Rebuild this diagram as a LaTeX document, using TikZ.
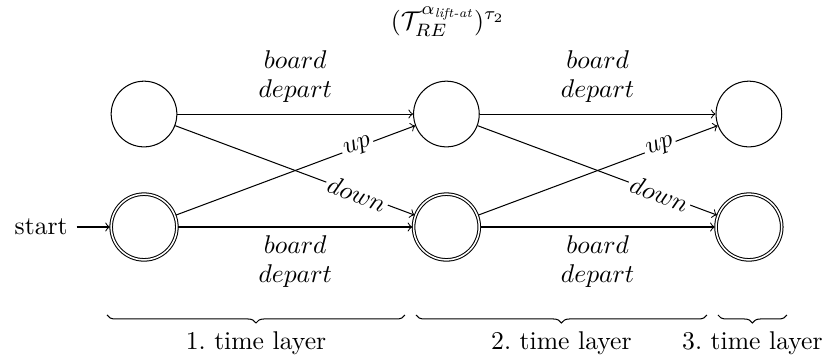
\documentclass[tikz,border=0pt]{standalone}
\usepackage{amsmath}
\usetikzlibrary{automata,decorations.pathreplacing}
\begin{document}
\begin{tikzpicture}[->, >=to, initial text=start,
    every state/.style={draw, minimum size=0.9cm},
    move/.style={sloped, fill=white, inner sep=1pt, pos=0.76},
    layerbrace/.style={-, decorate, decoration={brace, mirror, amplitude=0.11cm}}]
        \useasboundingbox (0,0) rectangle (11.33,4.877);

        % states of the time layers
        \node[state] (q0) at (1.973,3.315) {};
        \node[state, initial, accepting] (q1) at (1.973,1.767) {};
        \node[state] (q2) at (6.116,3.315) {};
        \node[state, accepting] (q3) at (6.116,1.767) {};
        \node[state] (q4) at (10.26,3.315) {};
        \node[state, accepting] (q5) at (10.26,1.767) {};

        \node (title) at (6.137,4.575) {$(\mathcal{T}_{RE}^{\alpha_{\textit{lift-at}}})^{\tau_2}$};

        % transitions
        \draw (q0) -- node[above=1pt, align=center] {$board$\\[-0.8pt]$depart$} (q2);
        \draw (q1) -- node[below, align=center] {$board$\\[-0.8pt]$depart$} (q3);
        \draw (q0) -- node[move] {$down$} (q3);
        \draw (q1) -- node[move] {$up$} (q2);
        \draw (q2) -- node[above=1pt, align=center] {$board$\\[-0.8pt]$depart$} (q4);
        \draw (q3) -- node[below, align=center] {$board$\\[-0.8pt]$depart$} (q5);
        \draw (q2) -- node[move] {$down$} (q5);
        \draw (q3) -- node[move] {$up$} (q4);

        % time layers
        \draw[layerbrace] (1.466,0.562) -- node[below=0.1cm] (l1) {1.~time layer} (5.548,0.562);
        \draw[layerbrace] (5.699,0.562) -- node[below=0.1cm] (l2) {2.~time layer} (9.685,0.562);
        \draw[layerbrace] (9.836,0.562) -- node[below=0.1cm] (l3) {3.~time layer} (10.781,0.562);
    \end{tikzpicture}
\end{document}
